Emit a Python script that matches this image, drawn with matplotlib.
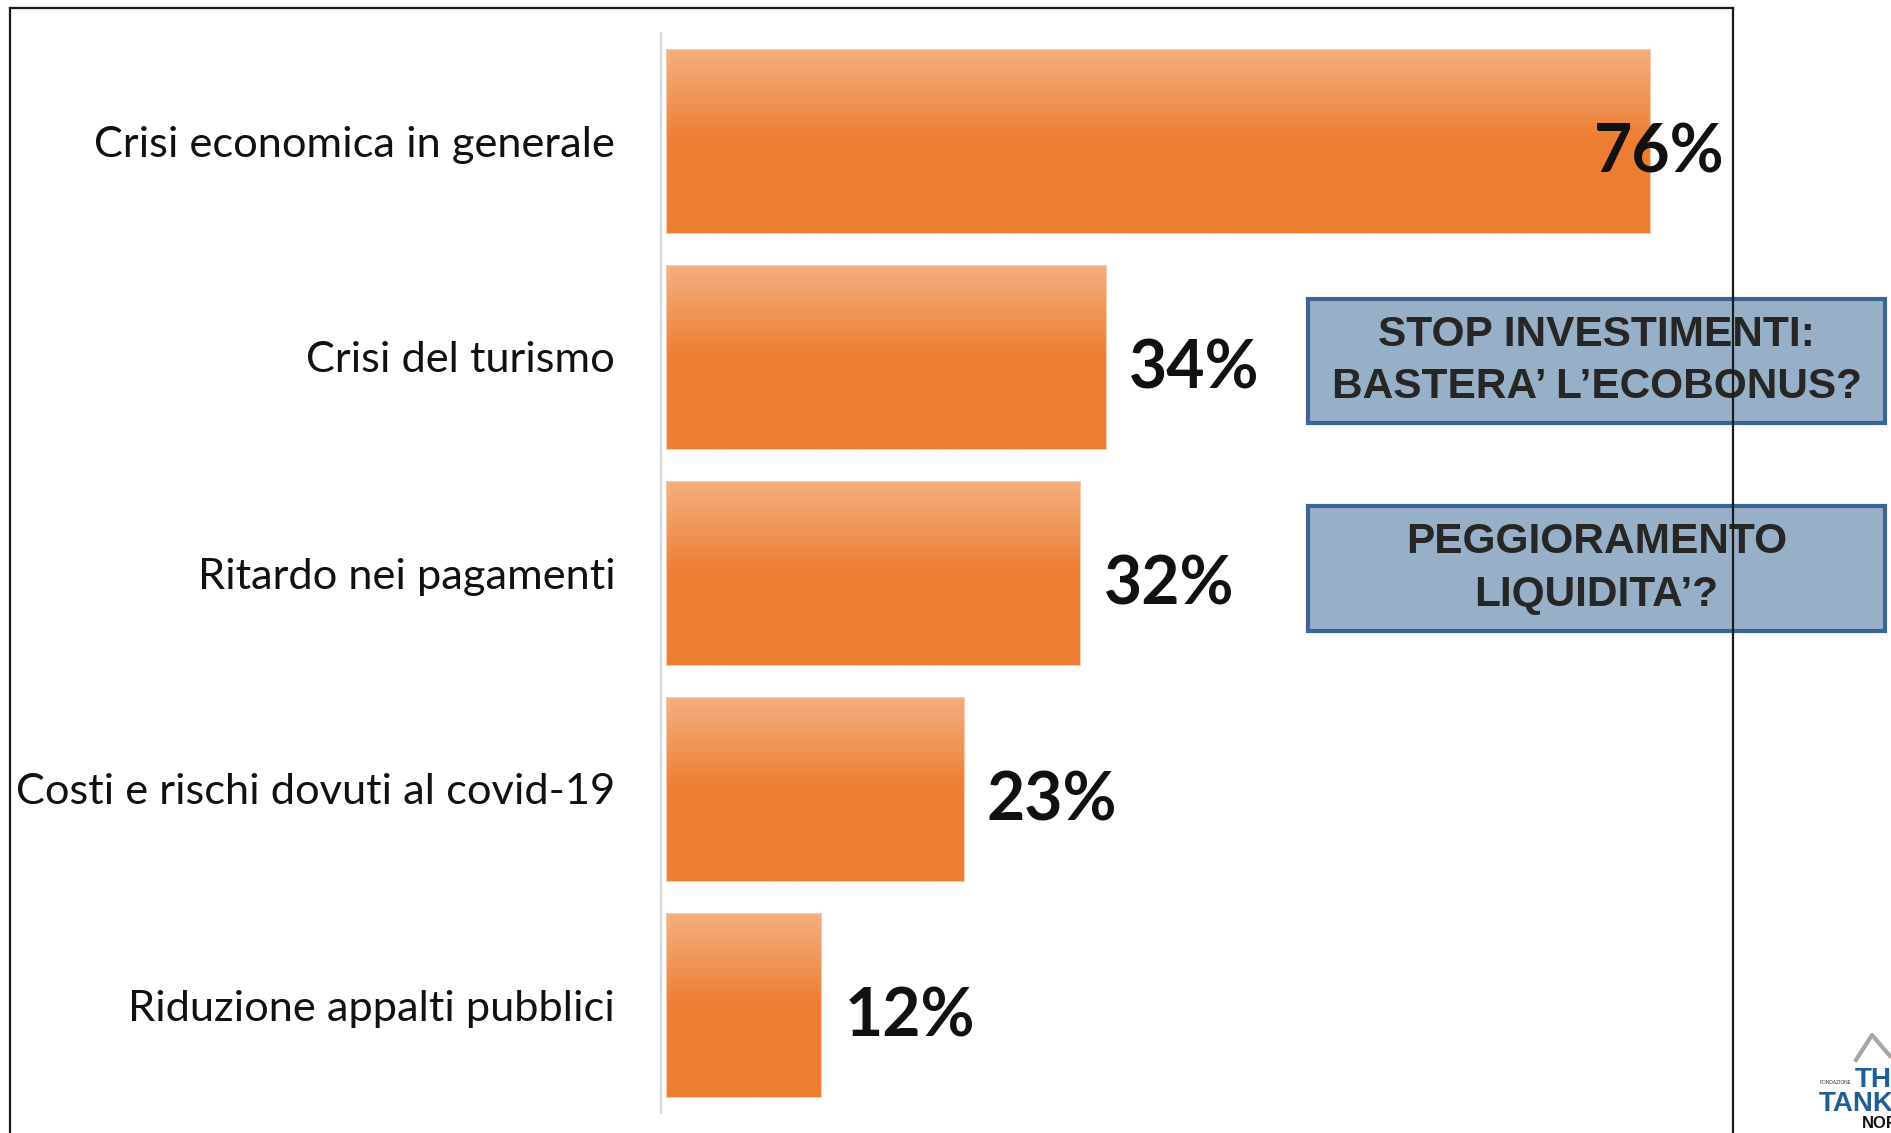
import numpy as np
import matplotlib
matplotlib.use("Agg")
import matplotlib.pyplot as plt
from matplotlib.patches import Rectangle
from matplotlib.lines import Line2D

# data
categories = ["Crisi economica in generale", "Crisi del turismo", "Ritardo nei pagamenti",
              "Costi e rischi dovuti al covid-19", "Riduzione appalti pubblici"]
values = [76, 34, 32, 23, 12]
box_texts = ["STOP INVESTIMENTI:\nBASTERA\u2019 L\u2019ECOBONUS?", "PEGGIORAMENTO\nLIQUIDITA\u2019?"]

W, H = 1891, 1133
fig = plt.figure(figsize=(W / 100, H / 100), dpi=100)
fig.patch.set_facecolor("white")

def fx(px):
    return px / W

def fy(py):
    return 1 - py / H

# axes placed in pixel terms
ax_l, ax_r, ax_t, ax_b = 661, 1733, 33, 1113
ax = fig.add_axes([fx(ax_l), fy(ax_b), fx(ax_r - ax_l), (ax_b - ax_t) / H])
scale = 12.95  # px per percent
xmin = -(666 - ax_l) / scale
xmax = xmin + (ax_r - ax_l) / scale

# gradient for bars: light at top, solid orange from the middle down
top = np.array([244, 175, 128]) / 255
base = np.array([237, 125, 49]) / 255
n = 200
t = np.linspace(0, 1, n)
f = np.clip(t / 0.5, 0, 1)[:, None]
grad = (top * (1 - f) + base * f)[:, None, :]

bh = 0.85
for i, v in enumerate(values):
    ax.imshow(grad, extent=(0, v, i + bh / 2, i - bh / 2), aspect="auto",
              interpolation="bilinear", zorder=2)
    ax.add_patch(Rectangle((0, i - bh / 2), v, bh, fill=False, ec="#f6c9a8", lw=0.8, zorder=3))

ax.set_xlim(xmin, xmax)
ax.set_ylim(len(values) - 0.5, -0.5)

# value labels
pad = 23 / scale
lab_w = 130 / scale
for i, v in enumerate(values):
    x = v + pad
    ha = "left"
    if x + lab_w > xmax:
        x = xmax - 8 / scale
        ha = "right"
    ax.text(x, i + 0.06, f"{v}%", ha=ha, va="center", fontsize=47.5, fontweight="bold",
            family="Lato", color="#111111", zorder=4)

ax.set_yticks(range(len(values)))
ax.set_yticklabels(categories, fontsize=31.2, family="Lato", color="#111111")
ax.tick_params(axis="y", length=0, pad=33)
ax.set_xticks([])
for s in ["top", "right", "bottom"]:
    ax.spines[s].set_visible(False)
ax.spines["left"].set_color("#d9d9d9")
ax.spines["left"].set_linewidth(1.5)

# callout boxes
box_y = [(299, 423), (506, 631)]
for (y0, y1), txt in zip(box_y, box_texts):
    fig.patches.append(Rectangle((fx(1308), fy(y1)), fx(1885 - 1308), (y1 - y0) / H,
                                 transform=fig.transFigure, fc="#98afc8", ec="#3a6594",
                                 lw=3, zorder=5))
    fig.text(fx((1308 + 1885) / 2), fy((y0 + y1) / 2), txt, ha="center", va="center",
             fontsize=30.5, fontweight="bold", family="Liberation Sans", color="#262626",
             linespacing=1.4, zorder=6)

# frame of the slide
for xs, ys in [((10, 10), (8, H)), ((10, 1733), (8, 8)), ((1733, 1733), (8, H))]:
    fig.add_artist(Line2D([fx(xs[0]), fx(xs[1])], [fy(ys[0]), fy(ys[1])],
                          transform=fig.transFigure, color="#1a1a1a", lw=1.6, zorder=10))

# logo bits in the corner
fig.add_artist(Line2D([fx(1856), fx(1872), fx(1890)], [fy(1060), fy(1035), fy(1056)],
                      transform=fig.transFigure, color="#a6a6a6", lw=3))
fig.text(fx(1855), fy(1087), "TH", fontsize=20, fontweight="bold", color="#1f5f96",
         family="Liberation Sans", ha="left", va="baseline")
fig.text(fx(1820), fy(1084), "FONDAZIONE", fontsize=3.5, color="#333333",
         family="Liberation Sans", ha="left", va="baseline")
fig.text(fx(1819), fy(1111), "TANK", fontsize=20, fontweight="bold", color="#1f5f96",
         family="Liberation Sans", ha="left", va="baseline")
fig.text(fx(1862), fy(1128), "NOR", fontsize=12, fontweight="bold", color="#111111",
         family="Liberation Sans", ha="left", va="baseline")

fig.savefig("out.png", dpi=100, facecolor="white")
